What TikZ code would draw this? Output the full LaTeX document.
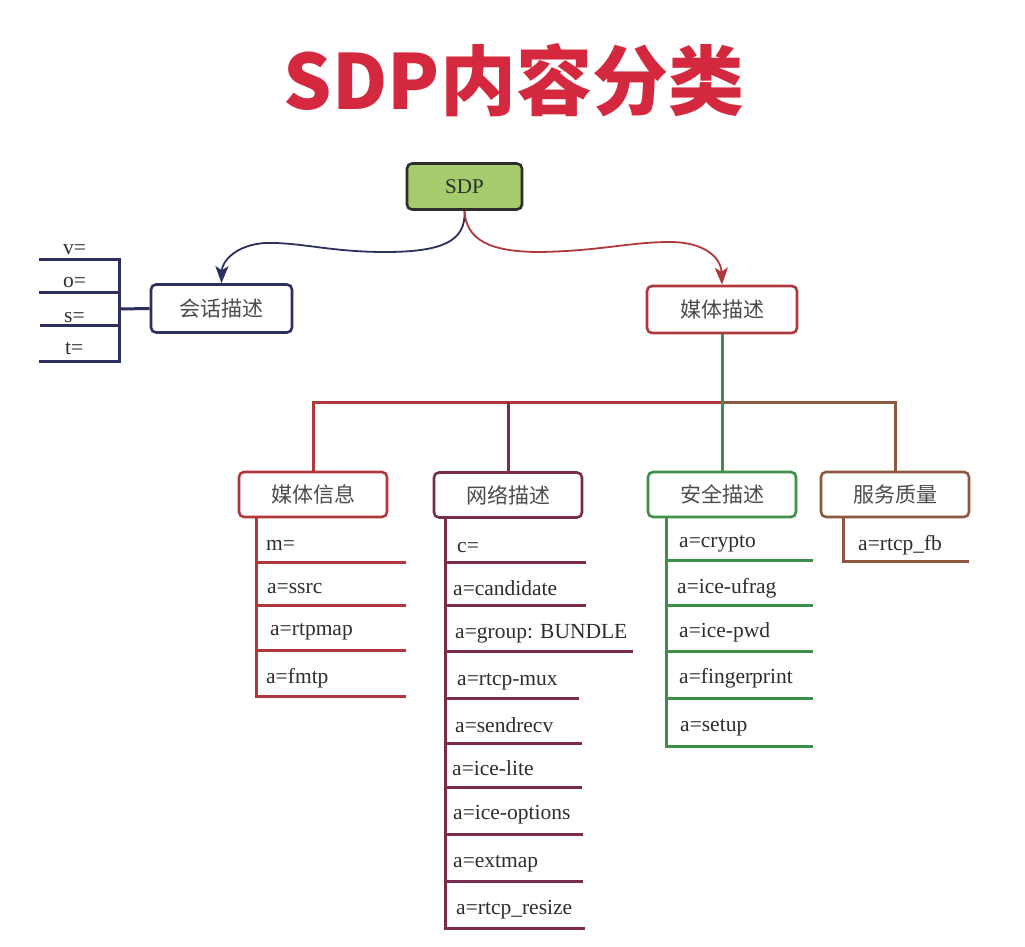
\documentclass[tikz,border=0pt]{standalone}
\usepackage{fontspec}
\setmainfont{Liberation Serif}
\newfontfamily\cjk{Noto Sans CJK SC}
\usetikzlibrary{arrows.meta}
\definecolor{titlered}{RGB}{212,40,62}
\definecolor{navyc}{RGB}{45,48,95}
\definecolor{redc}{RGB}{176,56,60}
\definecolor{maroonc}{RGB}{122,44,76}
\definecolor{greenc}{RGB}{62,144,72}
\definecolor{brownc}{RGB}{140,88,64}
\definecolor{sdpgreen}{RGB}{164,204,108}
\definecolor{sdpborder}{RGB}{45,45,45}
\definecolor{txt}{RGB}{45,45,45}
\definecolor{cjktxt}{RGB}{75,75,75}
\tikzset{
  box/.style={draw, line width=2.6pt, rounded corners=5pt, fill=white, inner sep=0pt,
    font=\cjk\fontsize{21}{21}\selectfont, text=cjktxt},
  lbl/.style={anchor=base west, inner sep=0pt, font=\fontsize{21.5}{21.5}\selectfont, text=txt},
  ln/.style={line width=3pt},
  arr/.style={line width=1.8pt, -{Stealth[length=17pt,width=13pt,inset=4pt]}}
}
\begin{document}
\begin{tikzpicture}[x=1pt,y=-1pt]
\useasboundingbox (0,0) rectangle (1025,947);

% title
\node[inner sep=0pt, font=\cjk\bfseries\fontsize{76}{76}\selectfont, text=titlered] (title) at (514,80) {SDP内容分类};

% nodes
\node[box, draw=sdpborder, fill=sdpgreen, minimum width=115, minimum height=46,
      font=\fontsize{21}{21}\selectfont, text=txt] (sdp) at (464.5,186.5) {SDP};
\node[box, draw=navyc, minimum width=141, minimum height=48] (sess) at (221.5,308.5) {会话描述};
\node[box, draw=redc, minimum width=150, minimum height=47] (media) at (722,309.5) {媒体描述};
\node[box, draw=redc, minimum width=148, minimum height=45] (minfo) at (313,494.5) {媒体信息};
\node[box, draw=maroonc, minimum width=148, minimum height=45] (net) at (508,495) {网络描述};
\node[box, draw=greenc, minimum width=148, minimum height=45] (sec) at (722,494.5) {安全描述};
\node[box, draw=brownc, minimum width=148, minimum height=45] (qos) at (895,494.5) {服务质量};

% curved arrows
\draw[arr, navyc] (sdp.south) .. controls (466,240) and (445,252) .. (385,252)
   .. controls (330,252) and (300,242) .. (265,243)
   .. controls (235,245) and (222,262) .. (sess.north);
\draw[arr, redc] (sdp.south) .. controls (466,240) and (490,252) .. (540,252)
   .. controls (600,251) and (630,242) .. (670,242)
   .. controls (705,242) and (721,258) .. (media.north);

% session list
\coordinate (sv) at (119,309);
\draw[ln, navyc] (sess.west) -- (sv);
\draw[ln, navyc] (39,259) -- (119,259) -- (119,361) -- (39,361);
\draw[ln, navyc] (39,292) -- (119,292);
\draw[ln, navyc] (40,325) -- (119,325);
\node[lbl] (lv) at (63,254) {v=};
\node[lbl] (lo) at (63,287) {o=};
\node[lbl] (ls) at (64,322) {s=};
\node[lbl] (lt) at (65,354) {t=};

% media bar
\coordinate (bar) at (722,402);
\draw[ln, redc] (minfo.north) |- (bar);
\draw[ln, maroonc] (net.north) -- (net.north |- bar);
\draw[ln, brownc] (bar) -| (qos.north);
\draw[ln, greenc] (media.south) -- (sec.north);

% media info list
\draw[ln, redc] (256,517) -- (256,696) -- (406,696);
\draw[ln, redc] (256,562) -- (406,562);
\draw[ln, redc] (256,605) -- (406,605);
\draw[ln, redc] (256,650) -- (406,650);
\node[lbl] (m1) at (266,550) {m=};
\node[lbl] (m2) at (267,593) {a=ssrc};
\node[lbl] (m3) at (270,635) {a=rtpmap};
\node[lbl] (m4) at (266,683) {a=fmtp};

% network list
\draw[ln, maroonc] (445,518) -- (445,928) -- (585,928);
\draw[ln, maroonc] (445,562) -- (586,562);
\draw[ln, maroonc] (445,605) -- (586,605);
\draw[ln, maroonc] (445,651) -- (633,651);
\draw[ln, maroonc] (445,698) -- (579,698);
\draw[ln, maroonc] (445,743) -- (582,743);
\draw[ln, maroonc] (445,787) -- (582,787);
\draw[ln, maroonc] (445,834) -- (583,834);
\draw[ln, maroonc] (445,881) -- (583,881);
\node[lbl] (n1) at (457,552) {c=};
\node[lbl] (n2) at (453,595) {a=candidate};
\node[lbl] (n3) at (455,638) {a=group: BUNDLE};
\node[lbl] (n4) at (457,685) {a=rtcp-mux};
\node[lbl] (n5) at (455,732) {a=sendrecv};
\node[lbl] (n6) at (452,775) {a=ice-lite};
\node[lbl] (n7) at (453,819) {a=ice-options};
\node[lbl] (n8) at (453,867) {a=extmap};
\node[lbl] (n9) at (456,914) {a=rtcp\_resize};

% security list
\draw[ln, greenc] (666,517) -- (666,746) -- (813,746);
\draw[ln, greenc] (666,560) -- (813,560);
\draw[ln, greenc] (667,605) -- (813,605);
\draw[ln, greenc] (667,651) -- (813,651);
\draw[ln, greenc] (666,698) -- (813,698);
\node[lbl] (s1) at (679,547) {a=crypto};
\node[lbl] (s2) at (677,593) {a=ice-ufrag};
\node[lbl] (s3) at (679,637) {a=ice-pwd};
\node[lbl] (s4) at (679,683) {a=fingerprint};
\node[lbl] (s5) at (680,731) {a=setup};

% qos list
\draw[ln, brownc] (843,517) -- (843,561) -- (969,561);
\node[lbl] (q1) at (858,550) {a=rtcp\_fb};
\end{tikzpicture}
\end{document}
